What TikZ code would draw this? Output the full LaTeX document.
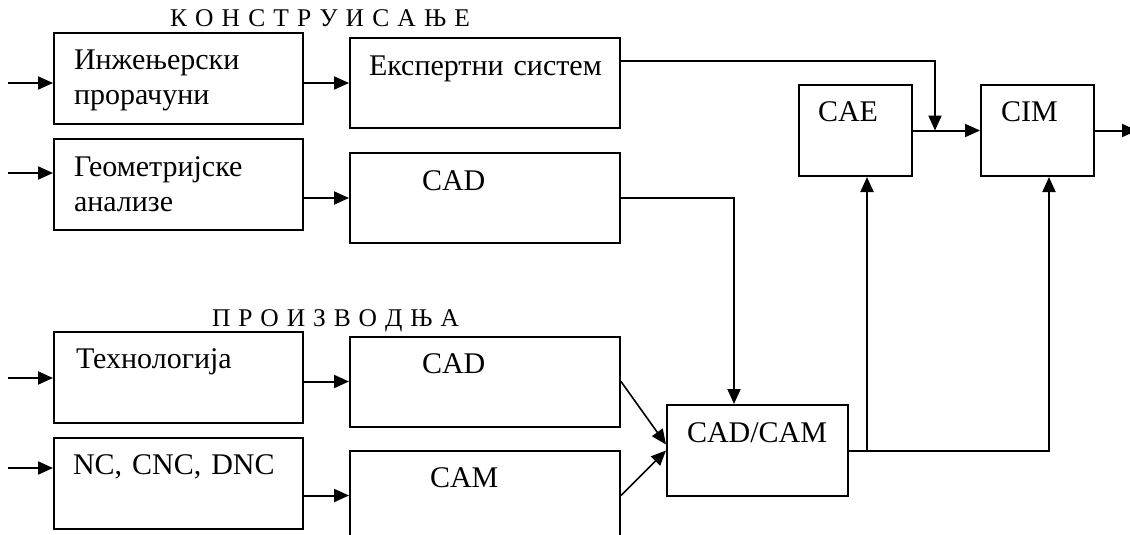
\documentclass[tikz,border=0pt]{standalone}
\usepackage{fontspec}
\setmainfont{Liberation Serif}
\usetikzlibrary{positioning,arrows.meta}

\begin{document}
\begin{tikzpicture}[x=1pt, y=1pt, node distance=45pt, >={Triangle[length=15pt,width=13pt]},
                    line width=2pt,
                    left node/.style={draw,minimum width=249pt,minimum height=91pt,inner sep=0pt},
                    right node/.style={draw,minimum width=270pt,minimum height=90pt,inner sep=0pt},
                    small node/.style={draw,minimum width=113pt,minimum height=91pt,inner sep=0pt},
                    box text/.style={anchor=base west,inner sep=0pt,align=left,text width=260pt,
                                     font=\fontsize{30}{35}\selectfont},
                    title/.style={anchor=base,inner sep=0pt,font=\fontsize{25.5}{28}\selectfont}]

  \useasboundingbox (0,0) rectangle (1130,-535);

  \node[left node] (ip) at (178.5,-78.5) {};
  \node[right node] (es) [right=of ip, yshift=-4.5pt] {};
  \node[left node] (ga) [below=13pt of ip] {};
  \node[right node] (cad1) [below=23pt of es] {};
  \node[left node] (teh) [below=100pt of ga] {};
  \node[right node] (cad2) [right=of teh, yshift=-4pt] {};
  \node[left node] (nc) [below=13pt of teh] {};
  \node[right node] (cam) [below=22pt of cad2] {};
  \node[draw,minimum width=181pt,minimum height=91pt,inner sep=0pt] (cc) [right=of cad2, yshift=-69pt] {};
  \node[small node] (cae) at (855.5,-130.5) {};
  \node[small node] (cim) [right=67pt of cae] {};

  \node[title] (kons) at ([xshift=16pt,yshift=5pt]ip.north east) {\makebox[300pt][s]{К О Н С Т Р У И С А Њ Е}};
  \node[title] (proiz) at ([xshift=31.5pt,yshift=5pt]teh.north east) {\makebox[247pt][s]{П Р О И З В О Д Њ А}};

  \node[box text] (ip t) at ([shift={(20pt,-38pt)}]ip.north west) {Инжењерски\\прорачуни};
  \node[box text] (es t) at ([shift={(19pt,-38pt)}]es.north west) {Експертни систем};
  \node[box text] (ga t) at ([shift={(20pt,-38pt)}]ga.north west) {Геометријске\\анализе};
  \node[box text] (cad1 t) at ([shift={(72pt,-38pt)}]cad1.north west) {CAD};
  \node[box text] (teh t) at ([shift={(22pt,-37.5pt)}]teh.north west) {Технологија};
  \node[box text] (cad2 t) at ([shift={(72pt,-37.5pt)}]cad2.north west) {CAD};
  \node[box text] (nc t) at ([shift={(19pt,-37.5pt)}]nc.north west) {NC, CNC, DNC};
  \node[box text] (cam t) at ([shift={(80pt,-37.5pt)}]cam.north west) {CAM};
  \node[box text] (cc t) at ([shift={(20pt,-38pt)}]cc.north west) {CAD/CAM};
  \node[box text] (cae t) at ([shift={(19pt,-37.5pt)}]cae.north west) {CAE};
  \node[box text] (cim t) at ([shift={(20pt,-37.5pt)}]cim.north west) {CIM};

  \coordinate (in1) at (8,-83);
  \coordinate (in2) at (8,-173);
  \coordinate (in3) at (8,-378);
  \coordinate (in4) at (8,-468);
  \coordinate (sp) at ([xshift=22pt]cae.east);
  \coordinate (out) at (1137,-130.5);

  \draw[->] (in1) -- (in1 -| ip.west);
  \draw[->] (in2) -- (in2 -| ga.west);
  \draw[->] (in3) -- (in3 -| teh.west);
  \draw[->] (in4) -- (in4 -| nc.west);

  \draw[->] (es.west -| ip.east) -- (es.west);
  \draw[->] (cad1.west -| ga.east) -- (cad1.west);
  \draw[->] (cad2.west -| teh.east) -- (cad2.west);
  \draw[->] (cam.west -| nc.east) -- (cam.west);

  \draw[->] ([yshift=22pt]es.east) -| (sp);
  \draw[->] (cae.east) -- (cim.west);
  \draw[->] (cim.east) -- (out);
  \draw[->] (cad1.east) -| ([xshift=68pt]cc.north west);
  \draw[->,line width=1.6pt] (cad2.east) -- ([yshift=6pt]cc.west);
  \draw[->,line width=1.6pt] (cam.east) -- (cc.west);
  \draw[->] (cc.east) -| ([xshift=11.5pt]cim.south);
  \draw[->] ([xshift=11.5pt]cae.south |- cc.east) -- ([xshift=11.5pt]cae.south);

\end{tikzpicture}
\end{document}
